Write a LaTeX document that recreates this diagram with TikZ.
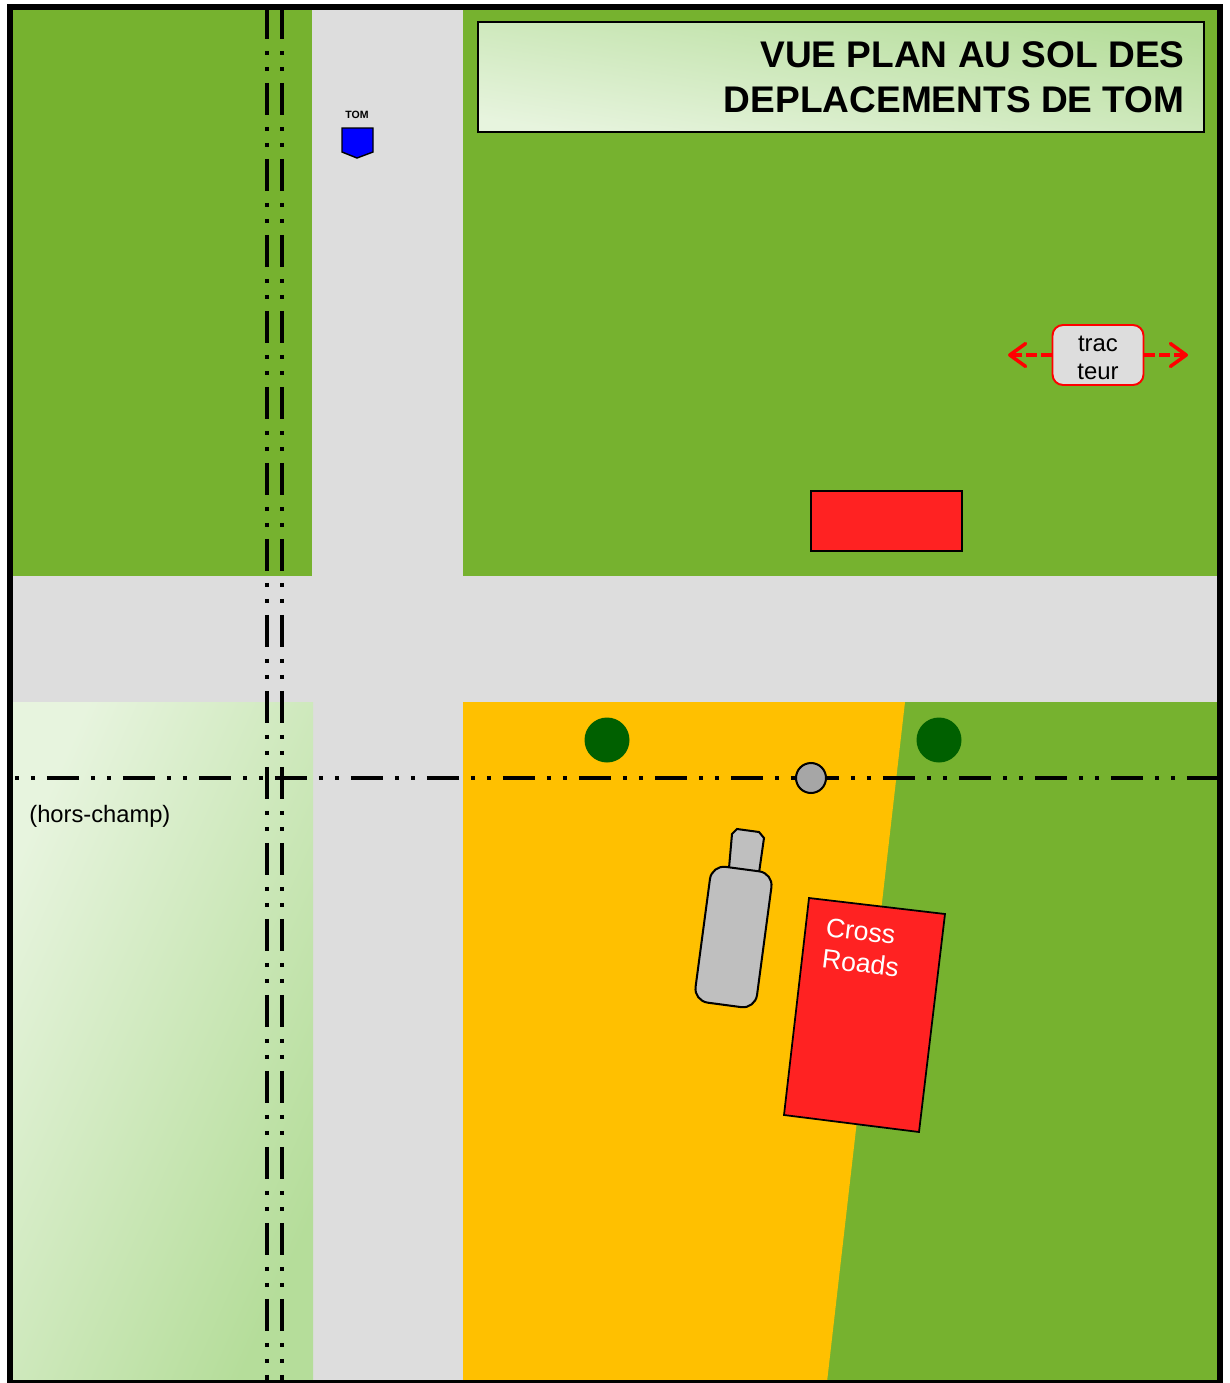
\documentclass[tikz,border=0pt]{standalone}
\usepackage{fontspec}
\setmainfont{Liberation Sans}
\usetikzlibrary{arrows.meta}
\definecolor{fieldgreen}{HTML}{76B22F}
\definecolor{roadgray}{HTML}{DDDDDD}
\definecolor{yardorange}{HTML}{FFC000}
\definecolor{barnred}{HTML}{FF2222}
\definecolor{treegreen}{HTML}{006000}
\definecolor{paleleft}{HTML}{E7F4DE}
\definecolor{paleright}{HTML}{B5DD9A}
\tikzset{
	railline/.style={line width=0.08cm, dash pattern=on 0.64cm off 0.24cm on 0.08cm off 0.24cm on 0.08cm off 0.24cm},
	crossline/.style={line width=0.08cm, dash pattern=on 0.08cm off 0.24cm on 0.08cm off 0.24cm on 0.64cm off 0.24cm},
	machine/.style={draw, line width=1.15pt, fill=gray!50!white},
	barn/.style={draw, line width=1pt, fill=barnred},
	tree/.style={circle, fill=treegreen, minimum size=0.9cm, inner sep=0pt},
	tractorarrow/.style={red, line width=2pt, dash pattern=on 6pt off 2.5pt, -{Straight Barb[round, length=9pt, width=13pt, line width=2pt]}}
}
\begin{document}
\begin{tikzpicture}[x=0.02cm, y=-0.02cm]
	\useasboundingbox (0, 0) rectangle (1230, 1383);
	% fields and roads
	\fill[fieldgreen] (10, 8) rectangle (1219, 1382);
	\fill[roadgray] (312, 8) rectangle (463, 576);
	\fill[roadgray] (313, 702) rectangle (463, 1382);
	\fill[roadgray] (10, 576) rectangle (1219, 702);
	\fill[yardorange] (463, 702) -- (905, 702) -- (827, 1382) -- (463, 1382) -- cycle;
	\shade[left color=paleleft, right color=paleright, shading angle=66] (13, 702) rectangle (313, 1381);
	\shade[left color=paleleft, right color=paleright, shading angle=171] (478, 22) rectangle (1204, 132);
	\draw[line width=0.8pt] (478, 22) rectangle (1204, 132);
	% buildings and trees
	\node[barn, minimum width=3.02cm, minimum height=1.2cm, inner sep=0pt] (shed) at (886.5, 521) {};
	\draw[barn] (809, 898) -- (945, 914) -- (919, 1132) -- (784, 1115) -- cycle;
	\node[tree] (treeleft) at (607, 740) {};
	\node[tree] (treeright) at (939, 740) {};
	% tracks
	\foreach \i in {267, 282}{
		\draw[railline] (\i, 7) -- (\i, 1381);
	}
	\draw[crossline] (15, 778) -- (1217, 778);
	\node[machine, fill=gray!70!white, circle, minimum size=0.6cm, inner sep=0pt] (pivot) at (811, 778) {};
	% machine in the yard
	\draw[machine] (729, 868) -- (732, 834) -- (737, 829) -- (759, 832) -- (764, 838) -- (759, 873) -- cycle;
	\node[machine, rounded corners=8pt, rotate=-7.6, minimum width=1.24cm, minimum height=2.74cm, inner sep=0pt] (body) at (733.5, 937) {};
	% tom
	\draw[line width=0.8pt, fill=blue] (342, 128) -- (373, 128) -- (373, 152) -- (357, 158) -- (342, 152) -- cycle;
	% texts
	\node[font=\bfseries\fontsize{6}{7}\selectfont] (tom) at (357, 114.5) {TOM};
	\node[font=\bfseries\fontsize{21.1}{25.6}\selectfont, align=right, anchor=east, inner sep=0pt] (title) at (1185, 77.5) {VUE PLAN AU SOL DES\\DEPLACEMENTS DE TOM};
	\node[font=\fontsize{13.5}{16}\selectfont, anchor=west, inner sep=0pt] (offscreen) at (29, 816.5) {(hors-champ)};
	\node[font=\fontsize{15.2}{18.2}\selectfont, text=white, align=left, rotate=-7, inner sep=0pt] (crossroads) at (862.5, 947.5) {Cross\\Roads};
	% tractor
	\node[draw=red, line width=1.1pt, fill=roadgray, rounded corners=6pt, minimum width=1.82cm, minimum height=1.2cm, inner sep=0pt, align=center, font=\fontsize{13.6}{16}\selectfont] (tractor) at (1098, 355) {\rule{0pt}{11.6pt}trac\\teur};
	\coordinate (tractorwest) at (1008, 355);
	\coordinate (tractoreast) at (1188, 355);
	\draw[tractorarrow] (tractor.west) -- (tractorwest);
	\draw[tractorarrow] (tractor.east) -- (tractoreast);
	% frame
	\draw[line width=0.12cm] (10, 7) -- (1219.5, 7) -- (1219.5, 1383) -- (10, 1383) -- cycle;
\end{tikzpicture}
\end{document}
